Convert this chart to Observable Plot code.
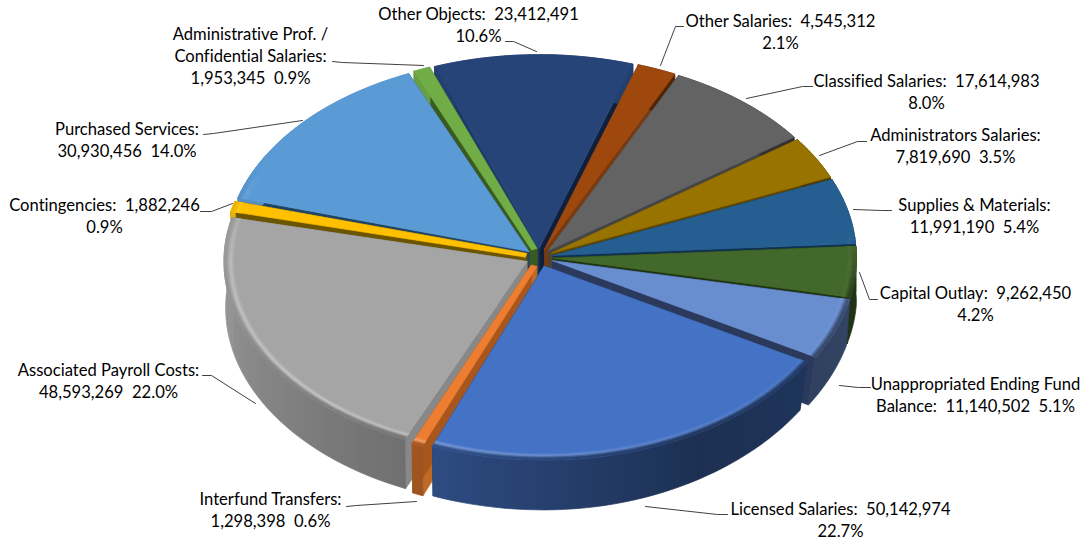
<!DOCTYPE html>
<html><head><meta charset="utf-8">
<script src="https://cdn.jsdelivr.net/npm/d3@7"></script>
<script src="https://cdn.jsdelivr.net/npm/@observablehq/plot@0.6"></script>
<style>
html,body{margin:0;padding:0;background:#fff}
svg text{white-space:pre;font-variant-ligatures:none}
</style></head><body><div id="chart"></div>
<script>
// ---- data (clockwise, starting after the top-centre slice) ----
const names = ["Other Salaries","Classified Salaries","Administrators Salaries","Supplies & Materials","Capital Outlay","Unappropriated Ending Fund\nBalance","Licensed Salaries","Interfund Transfers","Associated Payroll Costs","Contingencies","Purchased Services","Administrative Prof. /\nConfidential Salaries","Other Objects"];
const values = [4545312,17614983,7819690,11991190,9262450,11140502,50142974,1298398,48593269,1882246,30930456,1953345,23412491];
const percents = ["2.1%","8.0%","3.5%","5.4%","4.2%","5.1%","22.7%","0.6%","22.0%","0.9%","14.0%","0.9%","10.6%"];
// ---- styles ----
const colors = ["#9e480e","#636363","#997300","#255e91","#43682b","#698ed0","#4472c4","#ed7d31","#a5a5a5","#ffc000","#5b9bd5","#70ad47","#264478"];
const sideStart = ["#7a3a10","#454545","#5f4700","#0f3050","#1e3310","#2b3a5c","#1c2f55","#c06a28","#888888","#6b5500","#1f4565","#3a5a20","#1d3b6a"];
const sideEnd   = ["#7a3a10","#454545","#5f4700","#0f3050","#1e3310","#2b3a5c","#1c2f55","#a8561c","#888888","#6b5500","#1f4565","#3a5a20","#0f1f3c"];
// label layout: 0 = "name:  value\npct", 1 = "name:\nvalue  pct", 2 = "name:  value  pct" wrapped after name's newline
const breakStyle = [0,0,1,1,0,2,0,1,1,0,1,1,0];
const labelX = [780,926,955,974,975,975,840,270,108,104,126.5,250,478];
const labelY = [30,90,144,214,302,393,518,508,379,214,138,54,23];
const leaders = [
 [[683,26],[675,26],[660,65]],
 [[812,86],[802,86],[746,98]],
 [[866,141],[857,141],[819,155]],
 [[891,210],[881,210],[853,209]],
 [[877,299],[869,299],[859,272]],
 [[870,387],[858,387],[839,385]],
 [[727,514],[717,514],[645,506]],
 [[346,506],[356,505],[416,501]],
 [[202,375],[211,375],[255,403]],
 [[200,211],[211,211],[232,203]],
 [[203,134],[213,133],[302,120]],
 [[332,61],[342,62],[423,65]],
 [[505,41],[513,41],[536,51]]
];
// ---- pie geometry ----
const cx = 539, cy = 257, R = 303, k = 0.64, explode = 14, startDeg = 18;
const dz = 46, botY = 1.02;
const total = d3.sum(values);
const rad = d => d * Math.PI / 180;
const wallShade = d3.scaleLinear([90,150,205,270,300],[.50,.42,.68,.92,.92]).clamp(true);
const rimDark = d3.scaleLinear([85,105,285,300],[0,1,1,0]).clamp(true);
const rimLight = d3.scaleLinear([120,170,230,270,295],[.04,.2,.42,.3,0]).clamp(true);
const mult = (c,f) => { const r = d3.rgb(c); return d3.rgb(r.r*f,r.g*f,r.b*f).formatHex(); };
const mix = (a,b,t) => d3.interpolateRgb(a,b)(t);

let acc = 0;
const slices = values.map((v,i) => {
  const a0 = startDeg + acc/total*360; acc += v;
  const a1 = startDeg + acc/total*360;
  const mid = (a0+a1)/2;
  return {i,a0,a1,mid,thin:v/total<0.01?3:0,ox:explode*Math.sin(rad(mid)),oy:-explode*k*Math.cos(rad(mid))};
});
// t = tangential offset in the pie's plane, used to keep the thinnest wedges visible at the hub
const topPt = (s,a,r,t=0) => {
  const u=r*Math.sin(rad(a))+t*Math.cos(rad(a)), v=-r*Math.cos(rad(a))+t*Math.sin(rad(a));
  return [cx+s.ox+u, cy+s.oy+v*k];
};
const botPt = (s,a,r,t=0) => {
  const [x,y]=topPt(s,a,r,t), dx=x-cx, dy=y-cy, f=dx>0?1-0.05*Math.max(dy/(R*k),0):0.995;
  return [cx+dx*f, cy+dz+dy*botY];
};

const rows = []; let pid = 0;
const poly = (pts,color) => { pid++; for (const [x,y] of [...pts,pts[0]]) rows.push({id:pid,x,y,color}); };
const steps = (a0,a1,st) => { const n=Math.max(1,Math.ceil((a1-a0)/st)); return d3.range(n+1).map(j=>a0+(a1-a0)*j/n); };

const gradients = [];
[...slices].sort((a,b)=>-Math.cos(rad(a.mid))+Math.cos(rad(b.mid))).forEach(s=>{
  const base = colors[s.i], as = steps(s.a0,s.a1,2), t=s.thin;
  poly([topPt(s,s.a0,0,-t),topPt(s,s.a0,R),botPt(s,s.a0,R),botPt(s,s.a0,0,-t)],sideStart[s.i]);
  poly([topPt(s,s.a1,0,t),topPt(s,s.a1,R),botPt(s,s.a1,R),botPt(s,s.a1,0,t)],sideEnd[s.i]);
  // outer wall: one shape with a horizontal gradient
  const stops = as.map(a=>({x:topPt(s,a,R)[0],c:mult(base,wallShade(a))})).sort((p,q)=>p.x-q.x);
  gradients.push({id:`wall${s.i}`,stops});
  poly([...as.map(a=>topPt(s,a,R)),...[...as].reverse().map(a=>botPt(s,a,R))],`url(#wall${s.i})`);
  poly([topPt(s,s.a0,0,-t),...as.map(a=>topPt(s,a,R)),topPt(s,s.a1,0,t)],base);
  for (let j=0;j<as.length-1;j++){
    const m=(as[j]+as[j+1])/2, dk=rimDark(m), lt=rimLight(m);
    if (dk===0) continue;
    const wall=mult(base,wallShade(m)), hi=mix(base,"#fff",lt);
    const rr=[R-10,R-8,R-6,R-4.5,R-2.5,R];
    const cc=[base,mix(base,hi,.5),hi,mix(hi,wall,.4*dk),mix(base,wall,.8*dk),mix(base,wall,dk)];
    for(let b=0;b<5;b++){
      const col=mix(cc[b],cc[b+1],.5);
      poly([topPt(s,as[j],rr[b]),topPt(s,as[j+1],rr[b]),topPt(s,as[j+1],rr[b+1]),topPt(s,as[j],rr[b+1])],col);
    }
  }
});

const fmt = d3.format(",");
const labelText = (i) => {
  const n=names[i], v=fmt(values[i]), p=percents[i];
  return breakStyle[i]===0 ? `${n}:  ${v}\n${p}`
       : breakStyle[i]===1 ? `${n}:\n${v}  ${p}`
       : `${n}:  ${v}  ${p}`;
};
const labels = names.map((n,i)=>({x:labelX[i],y:labelY[i],t:labelText(i)}));
const leaderRows = leaders.flatMap((l,i)=>l.map(([x,y])=>({i,x,y})));

// gradient definitions, appended as a Plot render-function mark
const defsMark = () => {
  const defs = d3.create("svg:defs");
  for (const g of gradients) {
    const x0=g.stops[0].x, x1=g.stops[g.stops.length-1].x;
    const lg=defs.append("linearGradient").attr("id",g.id).attr("gradientUnits","userSpaceOnUse")
      .attr("x1",x0).attr("x2",Math.max(x1,x0+1)).attr("y1",0).attr("y2",0);
    for (const p of g.stops) lg.append("stop").attr("offset",(p.x-x0)/Math.max(x1-x0,1)).attr("stop-color",p.c);
  }
  return defs.node();
};

const plot = Plot.plot({
  width:1088,height:541,margin:0,
  x:{domain:[0,1088],range:[0,1088],axis:null},
  y:{domain:[0,541],range:[0,541],axis:null},
  color:{type:"identity"},
  style:{background:"#fff"},
  marks:[
    defsMark,
    Plot.line(rows,{x:"x",y:"y",z:"id",fill:"color",stroke:"color",strokeWidth:0.7,curve:"linear"}),
    Plot.line(leaderRows,{x:"x",y:"y",z:"i",stroke:"#404040",strokeWidth:1,curve:"linear"}),
    Plot.text(labels,{x:"x",y:"y",text:"t",fontSize:16.6,lineHeight:1.325,fontFamily:"Lato",fill:"#000",textAnchor:"middle"})
  ]
});
document.getElementById("chart").appendChild(plot);
</script></body></html>
